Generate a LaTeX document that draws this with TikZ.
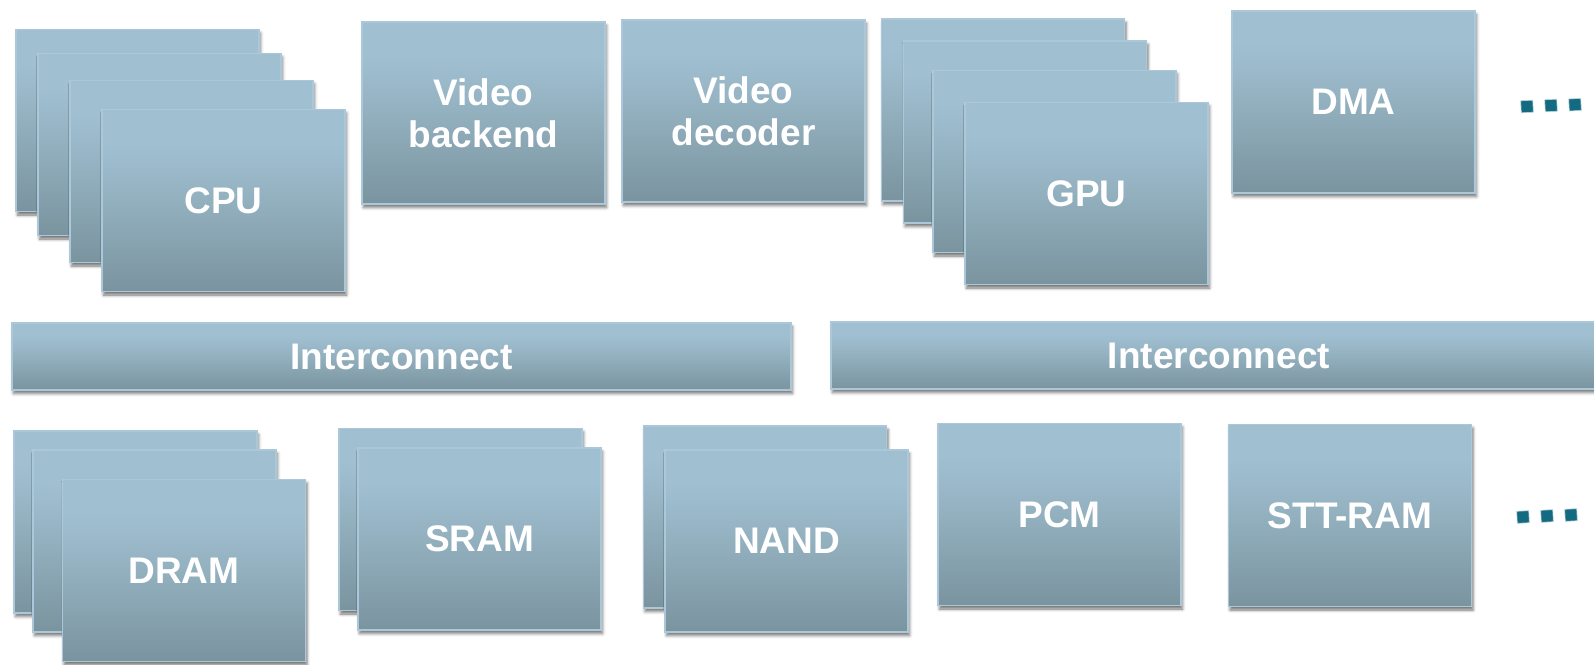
\documentclass[tikz,border=0pt]{standalone}
\usepackage{fontspec}
\setmainfont{Liberation Sans}
\usetikzlibrary{shadows.blur}

\definecolor{boxtop}{HTML}{A0C0D2}
\definecolor{boxmid}{HTML}{93B0BF}
\definecolor{boxbot}{HTML}{7A949F}
\definecolor{boxedge}{HTML}{AAC8D9}
\definecolor{dotcol}{HTML}{146A80}

% vertical fill of the blocks: flat light top, darkening towards the bottom
\pgfdeclareverticalshading{blockshade}{100bp}{%
  color(0bp)=(boxbot); color(25bp)=(boxbot); color(50bp)=(boxmid);
  color(66bp)=(boxtop); color(100bp)=(boxtop)}

\tikzset{
  blockbase/.style={draw=boxedge, line width=1.3pt, shading=blockshade,
    inner sep=0pt, text=white, align=center,
    font=\fontsize{37}{42}\selectfont\bfseries,
    blur shadow={shadow xshift=1.5pt, shadow yshift=-3.5pt,
      shadow blur radius=3pt, shadow opacity=55}},
  blk/.style={blockbase, minimum width=243pt, minimum height=182pt},
  bus/.style={blockbase, minimum height=67pt},
  dotmark/.style={fill=dotcol, draw=white!70!dotcol, line width=0.6pt,
    minimum size=12pt, inner sep=0pt, rotate=3},
}

\begin{document}
\begin{tikzpicture}[x=1pt, y=-1pt]
  \useasboundingbox (0,0) rectangle (1594,664);
  \clip (0,0) rectangle (1594,664);

  % processing elements
  \node[blk] (cpu1) at (137.5,120.5) {};
  \node[blk] (cpu2) at (159.5,144.5) {};
  \node[blk] (cpu3) at (191.5,171.5) {};
  \node[blk] (cpu4) at (223.5,200.5) {CPU};

  \node[blk] (vback) at (483.5,113) {Video\\backend};
  \node[blk] (vdec)  at (743.5,111) {Video\\decoder};

  \node[blk] (gpu1) at (1003,110) {};
  \node[blk] (gpu2) at (1025,132) {};
  \node[blk] (gpu3) at (1054.5,161.5) {};
  \node[blk] (gpu4) at (1086.5,193.5) {GPU};

  \node[blk] (dma) at (1353.5,102) {DMA};

  \node[dotmark] (td1) at (1527,106.5) {};
  \node[dotmark] (td2) at (1551,105.5) {};
  \node[dotmark] (td3) at (1575,104.7) {};

  % interconnects
  \node[bus, minimum width=779pt] (ic1) at (401.5,356.5) {Interconnect};
  \node[bus, minimum width=776pt] (ic2) at (1219,355.5) {Interconnect};

  % memories
  \node[blk] (dram1) at (135.5,522) {};
  \node[blk] (dram2) at (154.5,541) {};
  \node[blk] (dram3) at (184,570.5) {DRAM};

  \node[blk] (sram1) at (460.5,519.5) {};
  \node[blk] (sram2) at (479.5,539) {SRAM};

  \node[blk] (nand1) at (765,517) {};
  \node[blk] (nand2) at (786.5,541) {NAND};

  \node[blk] (pcm) at (1059.5,514.5) {PCM};
  \node[blk] (stt) at (1350,515.5) {STT-RAM};

  \node[dotmark] (bd1) at (1523,517) {};
  \node[dotmark] (bd2) at (1547,516) {};
  \node[dotmark] (bd3) at (1571,515) {};
\end{tikzpicture}
\end{document}
